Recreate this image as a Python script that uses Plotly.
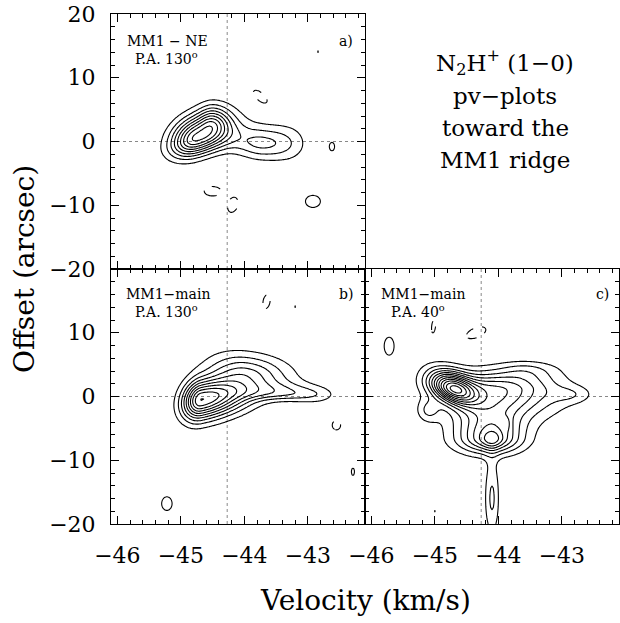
import numpy as np
import plotly.graph_objects as go

# ---------------- axes / labels ----------------
VEL_RANGE = [-46.1, -42.1]
OFF_RANGE = [-20, 20]
VSYS = -44.27
vel_ticks = [-46, -45, -44, -43]
off_ticks_a = [20, 10, 0, -10, -20]
off_ticks_bc = [10, 0, -10, -20]

# ---------------- emission components ----------------
# amplitude (rms units), centre velocity, centre offset,
# sigma_v (low side / high side), sigma_offset (low side / high side), tilt (arcsec per km/s)
a_amp = [9.0, 3.0, 1.3, 2.6, 1.2, 1.5, 1.5, 1.1, -1.4, -1.4, -1.4]
a_v0 = [-44.77, -44.50, -44.15, -43.72, -43.30, -42.62, -42.92, -42.84, -43.75, -44.50, -44.18]
a_y0 = [0.5, 3.2, 0.2, -0.3, -0.3, -0.8, -9.4, 14.1, 7.0, -7.8, -10.0]
a_svl = [0.26, 0.15, 0.30, 0.25, 0.25, 0.045, 0.13, 0.015, 0.14, 0.16, 0.10]
a_svr = [0.36, 0.18, 0.30, 0.30, 0.22, 0.045, 0.13, 0.015, 0.14, 0.16, 0.10]
a_syd = [1.8, 1.5, 1.5, 1.7, 2.1, 0.72, 1.05, 0.3, 1.0, 0.9, 1.3]
a_syu = [2.3, 1.8, 1.9, 1.8, 2.2, 0.72, 1.05, 0.3, 1.0, 0.9, 1.3]
a_tilt = [2.5, 0.0, 0.0, 0.0, 0.0, 0.0, 0.0, 0.0, -6.0, 0.0, 4.0]
a_nlev = 10

b_amp = [10.0, 2.8, 2.5, 1.3, 1.4, -1.4, -1.4, 1.4, 1.1]
b_v0 = [-44.68, -44.00, -43.50, -42.90, -45.22, -43.65, -42.55, -42.29, -43.20]
b_y0 = [-0.5, 4.2, 0.6, 0.2, -16.8, 14.9, -4.5, -11.8, 14.1]
b_svl = [0.20, 0.40, 0.40, 0.30, 0.10, 0.07, 0.08, 0.03, 0.015]
b_svr = [0.55, 0.50, 0.40, 0.25, 0.10, 0.07, 0.08, 0.03, 0.015]
b_syd = [2.1, 1.7, 0.8, 1.0, 1.3, 1.3, 0.9, 0.7, 0.3]
b_syu = [2.2, 2.0, 1.2, 1.0, 1.3, 1.3, 0.9, 0.7, 0.3]
b_tilt = [2.0, -1.0, 0.0, 0.0, 0.0, 5.0, 0.0, 0.0, 0.0]
b_nlev = 11

c_amp = [9.5, 6.0, 6.0, 1.5, 0.8, 1.5, 1.2, 1.8, 2.2, 1.6, -1.4, -1.5, 1.1, 1.1]
c_v0 = [-44.72, -44.05, -44.12, -44.10, -43.86, -43.55, -42.85, -45.10, -44.10, -45.72, -45.02, -44.35, -43.17, -45.00]
c_y0 = [1.3, 1.0, -6.5, -6.8, -4.2, 4.2, 0.3, -2.2, -16.0, 7.9, 11.0, 10.0, 12.6, -18.0]
c_svl = [0.25, 0.55, 0.38, 0.12, 0.04, 0.30, 0.22, 0.12, 0.08, 0.08, 0.04, 0.17, 0.015, 0.015]
c_svr = [0.25, 0.65, 0.35, 0.12, 0.04, 0.35, 0.22, 0.12, 0.08, 0.08, 0.04, 0.17, 0.015, 0.015]
c_syd = [1.5, 3.0, 1.7, 1.0, 0.8, 1.2, 0.9, 1.2, 4.0, 1.45, 1.2, 0.9, 0.3, 0.3]
c_syu = [1.75, 2.0, 3.0, 1.0, 0.8, 1.0, 0.9, 1.2, 4.5, 1.45, 1.2, 0.9, 0.3, 0.3]
c_tilt = [-3.0, 0.0, 0.0, 0.0, 0.0, 0.0, 0.0, 0.0, 0.0, 0.0, 10.0, 3.0, 0.0, 0.0]
c_nlev = 14

vgrid = np.arange(VEL_RANGE[0], VEL_RANGE[1] + 1e-9, 0.02)
ygrid = np.arange(OFF_RANGE[0], OFF_RANGE[1] + 1e-9, 0.2)
VV, YY = np.meshgrid(vgrid, ygrid)


def field(amp, v0, y0, svl, svr, syd, syu, tilt):
    z = np.zeros_like(VV)
    for A, vc, yc, s1, s2, s3, s4, k in zip(amp, v0, y0, svl, svr, syd, syu, tilt):
        dv = VV - vc
        dy = YY - yc - k * dv
        u = np.where(dv < 0, dv / s1, dv / s2)
        w = np.where(dy < 0, dy / s3, dy / s4)
        z += A * np.exp(-0.5 * (u * u + w * w))
    return z


panels = [
    ("x", "y", field(a_amp, a_v0, a_y0, a_svl, a_svr, a_syd, a_syu, a_tilt), a_nlev),
    ("x2", "y2", field(b_amp, b_v0, b_y0, b_svl, b_svr, b_syd, b_syu, b_tilt), b_nlev),
    ("x3", "y3", field(c_amp, c_v0, c_y0, c_svl, c_svr, c_syd, c_syu, c_tilt), c_nlev),
]

fig = go.Figure()
for xa, ya, z, nlev in panels:
    fig.add_trace(go.Contour(
        x=vgrid, y=ygrid, z=z, xaxis=xa, yaxis=ya,
        contours=dict(start=1, end=nlev, size=1, coloring="none"),
        line=dict(color="black", width=1.1), showscale=False, hoverinfo="skip"))
    fig.add_trace(go.Contour(
        x=vgrid, y=ygrid, z=z, xaxis=xa, yaxis=ya,
        contours=dict(start=-1, end=-1, size=1, coloring="none"),
        line=dict(color="black", width=1.1, dash="dash"), showscale=False, hoverinfo="skip"))

FONT = "DejaVu Serif"
tickfont = dict(family=FONT, size=22, color="black")


def xax(domain, anchor, labels):
    return dict(domain=domain, anchor=anchor, range=VEL_RANGE, tickmode="array",
                tickvals=vel_ticks, ticktext=[f"\u2212{abs(t)}" for t in vel_ticks],
                showticklabels=labels, ticks="inside", ticklen=8, tickwidth=1, tickcolor="black",
                minor=dict(dtick=0.2, tick0=-46, ticks="inside", ticklen=4, tickcolor="black", tickwidth=1),
                showline=True, linecolor="black", linewidth=1, mirror="ticks",
                showgrid=False, zeroline=False, tickfont=tickfont, ticklabelstandoff=12)


def yax(domain, anchor, vals, labels):
    return dict(domain=domain, anchor=anchor, range=OFF_RANGE, tickmode="array",
                tickvals=vals, ticktext=[("\u2212" + str(abs(t))) if t < 0 else str(t) for t in vals],
                showticklabels=labels, ticks="inside", ticklen=8, tickwidth=1, tickcolor="black",
                minor=dict(dtick=2, tick0=0, ticks="inside", ticklen=4, tickcolor="black", tickwidth=1),
                showline=True, linecolor="black", linewidth=1, mirror="ticks",
                showgrid=False, zeroline=False, tickfont=tickfont, ticklabelstandoff=10)


L, R, T, B = 111, 1, 14, 99
W, H = 620, 623
PW, PH = W - L - R, H - T - B

fig.update_layout(
    width=W, height=H, margin=dict(l=L, r=R, t=T, b=B),
    paper_bgcolor="white", plot_bgcolor="white", showlegend=False,
    font=dict(family=FONT, color="black"),
    xaxis=xax([0, 0.5], "y", False),
    yaxis=yax([0.5, 1], "x", off_ticks_a, True),
    xaxis2=xax([0, 0.5], "y2", True),
    yaxis2=yax([0, 0.5], "x2", off_ticks_bc, True),
    xaxis3=xax([0.5, 1], "y3", True),
    yaxis3=yax([0, 0.5], "x3", off_ticks_bc, False),
)

shapes = []
for xa, ya in [("x", "y"), ("x2", "y2"), ("x3", "y3")]:
    shapes.append(dict(type="line", xref=xa, yref=ya + " domain", x0=VSYS, x1=VSYS, y0=0, y1=1,
                       line=dict(color="#888", width=1, dash="dot"), layer="below"))
    shapes.append(dict(type="line", xref=xa + " domain", yref=ya, x0=0, x1=1, y0=0, y1=0,
                       line=dict(color="#888", width=1, dash="dot"), layer="below"))
fig.update_layout(shapes=shapes)


def px(x):
    return (x - L) / PW


def py(y):
    return (H - B - y) / PH


def note(text, x, y, size, angle=0):
    fig.add_annotation(text=text, x=px(x), y=py(y), xref="paper", yref="paper",
                       showarrow=False, xanchor="center", yanchor="middle", textangle=angle,
                       font=dict(family=FONT, size=size, color="black"))


note("MM1 \u2212 NE", 167, 41, 14)
note("P.A. 130<sup>o</sup>", 166, 58, 14)
note("a)", 346, 41, 14)
note("MM1\u2212main", 168, 294, 14)
note("P.A. 130<sup>o</sup>", 166, 311, 14)
note("b)", 346, 294, 14)
note("MM1\u2212main", 423, 294, 14)
note("P.A. 40<sup>o</sup>", 418, 311, 14)
note("c)", 602, 294, 14)
note("N<sub>2</sub>H<sup>+</sup> (1\u22120)", 505, 63, 23)
note("pv\u2212plots", 505, 96, 23)
note("toward the", 505, 128, 23)
note("MM1 ridge", 505, 160, 23)
note("Velocity (km/s)", 365, 600, 28)
note("Offset (arcsec)", 24, 269, 28, angle=-90)

fig.write_html("out.html")
